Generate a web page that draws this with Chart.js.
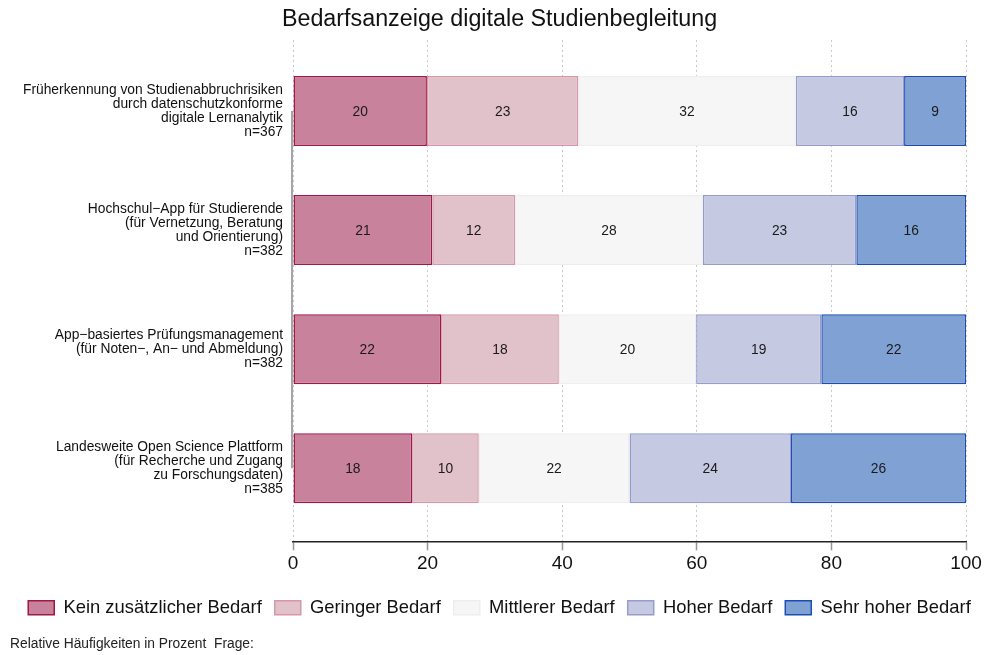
<!DOCTYPE html>
<html>
<head>
<meta charset="utf-8">
<script src="https://cdn.jsdelivr.net/npm/chart.js@4/dist/chart.umd.min.js"></script>
<style>
  html, body { margin: 0; padding: 0; background: #fff; }
  #wrap { width: 987px; height: 655px; position: relative; }
</style>
</head>
<body>
<div id="wrap"><canvas id="c" width="987" height="655"></canvas></div>
<script>
const categories = [
  ["Früherkennung von Studienabbruchrisiken", "durch datenschutzkonforme", "digitale Lernanalytik", "n=367"],
  ["Hochschul\u2212App für Studierende", "(für Vernetzung, Beratung", "und Orientierung)", "n=382"],
  ["App\u2212basiertes Prüfungsmanagement", "(für Noten\u2212, An\u2212 und Abmeldung)", "n=382"],
  ["Landesweite Open Science Plattform", "(für Recherche und Zugang", "zu Forschungsdaten)", "n=385"]
];
const seriesNames = ["Kein zusätzlicher Bedarf", "Geringer Bedarf", "Mittlerer Bedarf", "Hoher Bedarf", "Sehr hoher Bedarf"];
const keinBedarf     = [19.9, 20.7, 22.0, 17.7];
const geringerBedarf = [22.5, 12.3, 17.5, 9.9];
const mittlererBedarf= [32.3, 27.9, 20.4, 22.4];
const hoherBedarf    = [16.1, 22.8, 18.6, 24.0];
const sehrHoherBedarf= [9.2, 16.3, 21.5, 26.0];
const xTicks = [0, 20, 40, 60, 80, 100];
const titleText = "Bedarfsanzeige digitale Studienbegleitung";
const captionText = "Relative Häufigkeiten in Prozent  Frage:";

const fills   = ["rgb(200,130,156)", "rgb(226,194,202)", "rgb(246,246,246)", "rgb(197,201,225)", "rgb(128,161,212)"];
const borders = ["rgb(160,24,74)",  "rgb(214,152,168)", "rgb(238,238,238)", "rgb(148,157,204)", "rgb(28,78,178)"];

const allSeries = [keinBedarf, geringerBedarf, mittlererBedarf, hoherBedarf, sehrHoherBedarf];
const datasets = allSeries.map((vals, s) => ({
  label: seriesNames[s],
  data: vals.map((v, i) => ({ x: v, y: i })),
  backgroundColor: fills[s],
  borderColor: borders[s],
  borderWidth: 1.5,
  borderSkipped: false,
  categoryPercentage: 1,
  barPercentage: 0.588
}));

const FONT = "'Liberation Sans', Arial, Helvetica, sans-serif";

const yAxisLine = {
  id: 'yAxisLine',
  beforeDatasetsDraw(chart) {
    const {ctx, scales: {x, y}} = chart;
    const px = x.getPixelForValue(0) - 1;
    ctx.save();
    ctx.strokeStyle = 'rgb(165,165,165)';
    ctx.lineWidth = 2;
    ctx.beginPath();
    ctx.moveTo(px, y.getPixelForValue(0));
    ctx.lineTo(px, y.getPixelForValue(categories.length - 1));
    ctx.stroke();
    ctx.restore();
  }
};

const barLabels = {
  id: 'barLabels',
  afterDatasetsDraw(chart) {
    const {ctx} = chart;
    ctx.save();
    ctx.font = "13.8px " + FONT;
    ctx.fillStyle = '#1a1a1a';
    ctx.textAlign = 'center';
    ctx.textBaseline = 'middle';
    chart.data.datasets.forEach((ds, di) => {
      const meta = chart.getDatasetMeta(di);
      meta.data.forEach((el, i) => {
        const p = el.getCenterPoint();
        ctx.fillText(String(Math.round(ds.data[i].x)), p.x, p.y + 1);
      });
    });
    ctx.restore();
  }
};

const caption = {
  id: 'caption',
  afterDraw(chart) {
    const {ctx} = chart;
    ctx.save();
    ctx.font = "13.8px " + FONT;
    ctx.fillStyle = '#222';
    ctx.textAlign = 'left';
    ctx.textBaseline = 'middle';
    ctx.fillText(captionText, 10, 644);
    ctx.restore();
  }
};

new Chart(document.getElementById('c'), {
  type: 'bar',
  data: { datasets },
  plugins: [yAxisLine, barLabels, caption],
  options: {
    responsive: false,
    animation: false,
    indexAxis: 'y',
    layout: { padding: { left: 12, right: 0, top: 0, bottom: 28 } },
    scales: {
      x: {
        type: 'linear',
        stacked: true,
        min: 0, max: 100,
        afterBuildTicks(scale) { scale.ticks = xTicks.map(v => ({ value: v })); },
        ticks: { font: { size: 19, family: FONT }, color: '#111', padding: 2 },
        grid: {
          color: 'rgb(200,200,200)', lineWidth: 1,
          tickColor: 'rgb(150,150,150)', tickLength: 9, tickWidth: 1.5
        },
        border: { display: true, color: '#222', width: 1.5, dash: [2, 3] },
        afterFit(scale) { scale.height += 8.5; scale.paddingRight = 21; }
      },
      y: {
        type: 'linear',
        stacked: true,
        reverse: true,
        offset: false,
        min: -0.5966, max: 3.6134,
        afterBuildTicks(scale) { scale.ticks = categories.map((_, i) => ({ value: i })); },
        ticks: {
          font: { size: 13.8, family: FONT, lineHeight: '14px' },
          color: '#111',
          padding: 10,
          callback: (v) => categories[v]
        },
        grid: { display: false, drawTicks: false, offset: false },
        border: { display: false },
        afterFit(scale) { scale.width = 281; }
      }
    },
    plugins: {
      title: {
        display: true, text: titleText,
        font: { size: 23.3, family: FONT, weight: 'normal' },
        color: '#111',
        padding: { top: 6, bottom: 6 }
      },
      legend: {
        position: 'bottom',
        labels: {
          boxWidth: 26, boxHeight: 14,
          font: { size: 18.4, family: FONT },
          color: '#111',
          padding: 13
        }
      },
      tooltip: { enabled: false }
    }
  }
});
</script>
</body>
</html>
